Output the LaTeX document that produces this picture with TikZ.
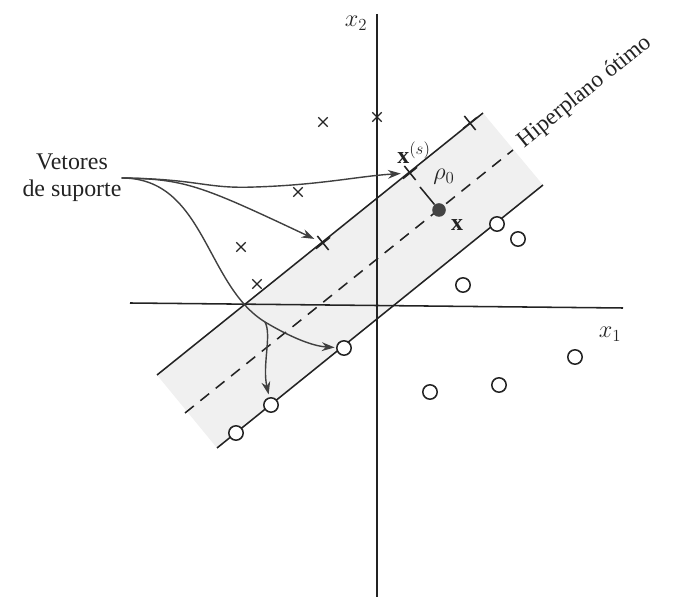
\documentclass[tikz,border=0pt]{standalone}
\usepackage{fontspec}
\setmainfont{Liberation Serif}
\usepackage{amsmath}
\usetikzlibrary{arrows.meta,shapes.misc}
\definecolor{ink}{RGB}{35,35,35}
\tikzset{
  axis/.style={line width=1.1pt,ink},
  margin/.style={line width=1.1pt,ink},
  optimal/.style={margin,dash pattern=on 8pt off 6pt},
  band/.style={fill=black!6},
  cls/.style={circle,draw=ink,fill=white,line width=1.1pt,minimum size=0.36cm,inner sep=0pt},
  dot/.style={circle,fill=ink!85,minimum size=0.34cm,inner sep=0pt},
  xmark/.style={cross out,draw=ink,line width=0.9pt,minimum size=0.2cm,inner sep=0pt},
  svtick/.style={cross out,draw=ink,line width=1.1pt,minimum size=0.28cm,inner sep=0pt,rotate=-6.1},
  sv/.style={-{Stealth[length=3.2mm,width=2.2mm]},line width=1pt,black!75},
  lbl/.style={font=\fontsize{17}{19.5}\selectfont,inner sep=0pt,ink},
}
\begin{document}
\begin{tikzpicture}[x=0.025cm,y=-0.025cm]
  \useasboundingbox (0,0) rectangle (679,609);
  % margin band
  \fill[band] (157,375) -- (483,113) -- (543,185) -- (217,448) -- cycle;
  % axes
  \draw[axis] (377,14) -- (377,597);
  \draw[axis] (130,303) -- (623,308);
  \node[lbl] (x2lbl) at (356,23) {$x_2$};
  \node[lbl] (x1lbl) at (610,334) {$x_1$};
  % hyperplanes
  \draw[margin] (157,375) -- (483,113);
  \draw[optimal] (185,413) -- (513,150);
  \draw[margin] (217,448) -- (543,185);
  \node[lbl,font=\fontsize{16.5}{19}\selectfont,rotate=38.9,anchor=west] (hiper) at (521,144) {Hiperplano ótimo};
  % class 1
  \node[xmark] (a1) at (323,122) {};
  \node[xmark] (a2) at (377,117) {};
  \node[xmark] (a3) at (298,192) {};
  \node[xmark] (a4) at (241,247) {};
  \node[xmark] (a5) at (257,284) {};
  \node[svtick] (s1) at (323,243) {};
  \node[svtick] (s2) at (410,173) {};
  \node[svtick] (s3) at (470,123) {};
  % class 2
  \node[cls] (c1) at (344,348) {};
  \node[cls] (c2) at (271,405) {};
  \node[cls] (c3) at (236,433) {};
  \node[cls] (c4) at (497,224) {};
  \node[cls] (c5) at (518,239) {};
  \node[cls] (c6) at (463,285) {};
  \node[cls] (c7) at (430,392) {};
  \node[cls] (c8) at (499,385) {};
  \node[cls] (c9) at (575,357) {};
  % point x and distance
  \node[dot] (xpt) at (439,210) {};
  \coordinate (rhoend) at (420,187);
  \draw[axis] (xpt) -- (rhoend);
  \node[lbl] (xlbl) at (457,225) {$\mathbf{x}$};
  \node[lbl] (rho) at (444,177) {$\rho_0$};
  \node[lbl] (xslbl) at (414,153) {$\mathbf{x}^{(s)}$};
  % support vectors
  \node[lbl,align=center] (vetores) at (72,178) {Vetores\\de suporte};
  \coordinate (split) at (265,322);
  \draw[sv,shorten >=2pt] (vetores.east) .. controls (200,179) and (205,189) .. (255,187)
    .. controls (320,185) and (360,176) .. (s2);
  \draw[sv,shorten >=2pt] (vetores.east) .. controls (185,179) and (200,185) .. (s1);
  \draw[line width=1pt,black!75] (vetores.east) .. controls (205,178) and (205,285) .. (split);
  \draw[sv,shorten >=1pt] (split) .. controls (285,334) and (310,346) .. (c1);
  \draw[sv,shorten >=2pt] (split) .. controls (272,335) and (262,365) .. (c2);
\end{tikzpicture}
\end{document}
